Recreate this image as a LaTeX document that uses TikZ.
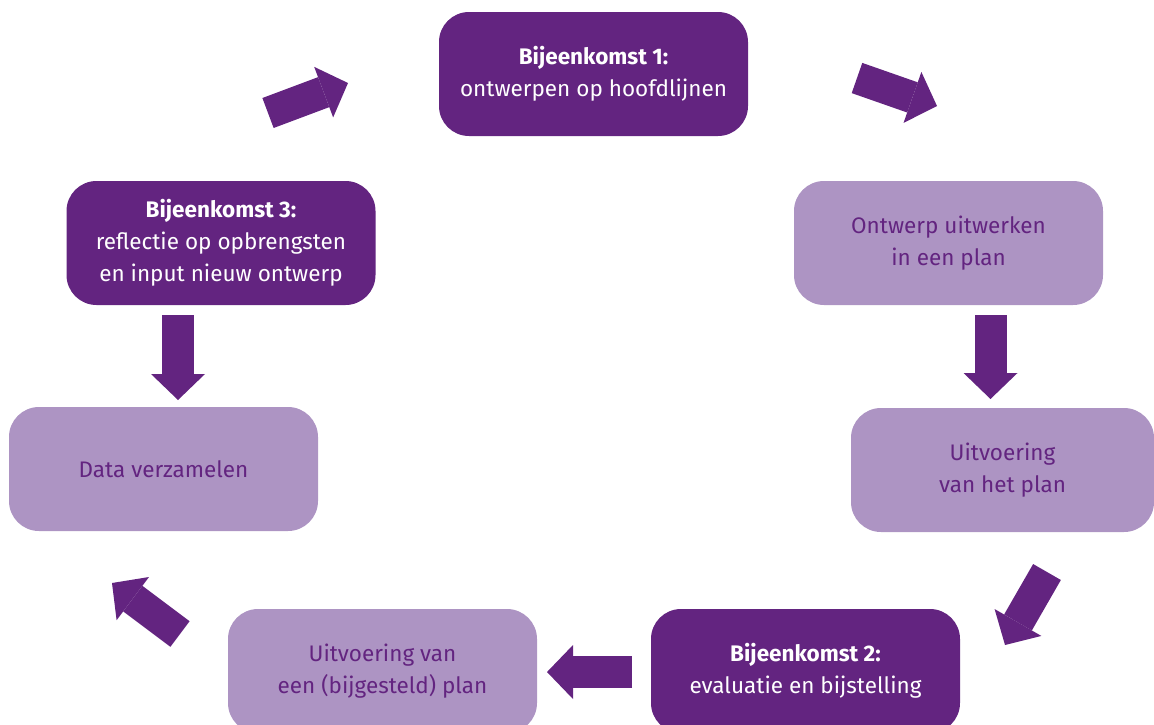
\documentclass[tikz,border=0pt]{standalone}
\usepackage{fontspec}
\setmainfont{Fira Sans}
\usetikzlibrary{arrows.meta}
\definecolor{darkpurple}{RGB}{99,36,128}
\definecolor{lightpurple}{RGB}{173,148,195}
\tikzset{
  meeting/.style={rectangle, rounded corners=30pt, fill=darkpurple, text=white,
    minimum width=309pt, minimum height=124pt, align=center,
    font=\fontsize{22.5}{32}\selectfont},
  task/.style={meeting, fill=lightpurple, text=darkpurple},
  blockarrow/.style={darkpurple, line width=32pt,
    -{Triangle[width=54pt, length=26pt, line width=0pt]}}
}
\begin{document}
\begin{tikzpicture}[x=1pt, y=-1pt]
    \useasboundingbox (0,0) rectangle (1154,724);
    \clip (0,0) rectangle (1154,724);

    % boxes of the cycle
    \node[meeting] (meet1) at (593.5,74) {\textbf{Bijeenkomst 1:}\\ontwerpen op hoofdlijnen};
    \node[task] (plan) at (948.5,243) {Ontwerp uitwerken\\in een plan};
    \node[task, minimum width=303pt] (exec) at (1002.5,470) {Uitvoering\\van het plan};
    \node[meeting] (meet2) at (805.5,671) {\textbf{Bijeenkomst 2:}\\evaluatie en bijstelling};
    \node[task] (reexec) at (382.5,671) {Uitvoering van\\een (bijgesteld) plan};
    \node[task] (data) at (163.5,469) {Data verzamelen};
    \node[meeting] (meet3) at (221,243) {\textbf{Bijeenkomst 3:}\\reflectie op opbrengsten\\en input nieuw ontwerp};

    % arrow ends
    \coordinate (a1s) at (268,113);   \coordinate (a1e) at (348,83);
    \coordinate (a2s) at (857,78);    \coordinate (a2e) at (937,106);
    \coordinate (a3s) at (990.5,315); \coordinate (a3e) at (990.5,399);
    \coordinate (a4s) at (1047,572);  \coordinate (a4e) at (1005,645);
    \coordinate (a5s) at (632,672);   \coordinate (a5e) at (547,672);
    \coordinate (a6s) at (180,634);   \coordinate (a6e) at (112,583);
    \coordinate (a7s) at (178,315);   \coordinate (a7e) at (178,400);

    \foreach \i in {1,...,7}
        \draw[blockarrow] (a\i s) -- (a\i e);
\end{tikzpicture}
\end{document}
